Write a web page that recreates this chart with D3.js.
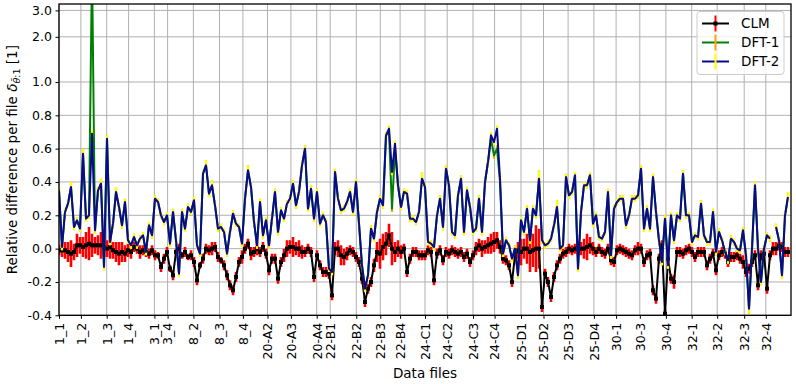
<!DOCTYPE html>
<html>
<head>
<meta charset="utf-8">
<script src="https://cdn.jsdelivr.net/npm/d3@7"></script>
<style>
body { margin: 0; background: #fff; }
svg { display: block; font-family: "DejaVu Sans", sans-serif; }
.axis path, .axis line { stroke: #000; }
</style>
</head>
<body>
<div id="chart"></div>
<script>
`use strict`;

// file labels on the x axis and where each file starts (point index)
const fileLabels = ['1_1','1_2','1_3','1_4','3_1','3_4','8_2','8_3','8_4','20-A2','20-A3','20-A4',
    '22-B1','22-B2','22-B3','22-B4','24-C1','24-C2','24-C3','24-C4','25-D1','25-D2','25-D3','25-D4',
    '30-1','30-3','30-4','32-1','32-2','32-3','32-4'];
const fileStarts = [0, 7.3, 15.9, 23.2, 31.8, 36.2, 44.8, 53.5, 61.3, 69.5, 77.3, 85.9,
    90.4, 99.1, 107.1, 113.7, 122, 129.4, 138, 145.2, 154, 161.5, 169.7, 178.3,
    185.7, 193.6, 202.3, 210.9, 219.4, 228.4, 235.6];

const yTicks = [-0.4, -0.2, 0.0, 0.2, 0.4, 0.6, 0.8, 1.0, 2.0, 3.0];
const yTickLabels = ['-0.4','-0.2','0.0','0.2','0.4','0.6','0.8','1.0','2.0','3.0'];

const clm = [
    -0.01,-0.01,-0.01,-0.02,-0.03,-0.02,0.02,0.02,0.01,0.02,
    0.03,0.02,0.02,0.02,0.02,0.01,0.0,0.01,-0.01,-0.02,
    -0.03,-0.02,-0.03,-0.01,-0.02,0.01,0.0,-0.02,-0.01,-0.02,
    -0.03,-0.01,-0.04,-0.04,-0.11,-0.06,-0.02,-0.12,-0.16,-0.02,
    0.0,-0.04,-0.02,-0.05,-0.04,-0.08,-0.19,-0.1,-0.06,0.0,
    -0.01,0.0,0.01,-0.05,-0.07,-0.1,-0.16,-0.22,-0.25,-0.17,
    -0.08,-0.05,0.0,0.03,-0.03,-0.02,0.0,-0.02,0.01,-0.03,
    -0.13,-0.06,-0.06,-0.18,-0.08,-0.04,0.0,0.01,0.01,0.0,
    0.0,-0.02,-0.02,0.0,-0.02,-0.17,-0.04,-0.1,-0.14,-0.14,
    -0.15,-0.28,0.0,0.0,-0.04,-0.05,-0.03,-0.01,-0.02,-0.05,
    -0.08,-0.18,-0.32,-0.24,-0.2,-0.1,-0.02,-0.03,0.01,0.03,
    0.08,0.0,-0.02,0.0,-0.02,0.0,-0.14,-0.06,-0.02,-0.02,
    -0.04,-0.04,-0.04,-0.01,-0.02,-0.19,-0.03,-0.01,-0.07,-0.02,
    -0.03,-0.01,-0.02,-0.03,-0.02,-0.05,-0.03,-0.08,-0.04,0.0,
    0.02,0.0,0.01,0.02,0.03,0.04,0.05,0.01,-0.06,-0.07,
    -0.1,-0.2,-0.04,-0.01,-0.02,0.0,0.0,-0.02,-0.01,0.0,
    0.0,-0.35,-0.15,-0.2,-0.29,-0.17,-0.1,-0.06,-0.03,-0.02,
    0.0,-0.01,0.0,0.0,0.0,0.0,0.01,0.02,0.0,-0.02,
    0.0,-0.02,-0.03,0.0,-0.07,-0.08,-0.01,0.0,-0.01,-0.02,
    -0.03,-0.04,-0.01,0.0,0.0,-0.08,-0.04,-0.03,-0.25,-0.3,
    -0.06,0.02,-0.39,-0.06,-0.18,-0.2,-0.02,-0.02,-0.03,-0.01,
    0.0,-0.02,-0.05,-0.02,-0.02,-0.02,-0.1,-0.06,-0.03,-0.13,
    -0.04,-0.02,-0.03,-0.08,-0.05,-0.05,-0.04,-0.06,-0.08,-0.14,
    -0.12,-0.08,-0.04,-0.22,-0.04,-0.03,-0.24,-0.04,0.0,0.0,
    0.02,0.01,-0.02,-0.02];
const clmErr = [
    0.03,0.04,0.05,0.06,0.08,0.05,0.07,0.05,0.06,0.08,
    0.1,0.07,0.05,0.06,0.08,0.06,0.05,0.07,0.05,0.06,
    0.07,0.06,0.05,0.04,0.04,0.03,0.03,0.04,0.03,0.03,
    0.03,0.03,0.03,0.02,0.03,0.03,0.03,0.02,0.03,0.02,
    0.03,0.02,0.03,0.02,0.03,0.03,0.03,0.02,0.03,0.03,
    0.03,0.04,0.03,0.03,0.02,0.03,0.03,0.03,0.03,0.03,
    0.03,0.04,0.03,0.03,0.04,0.03,0.04,0.03,0.03,0.03,
    0.03,0.03,0.03,0.03,0.03,0.04,0.05,0.04,0.06,0.04,
    0.05,0.04,0.03,0.03,0.03,0.03,0.03,0.03,0.03,0.03,
    0.03,0.03,0.04,0.05,0.06,0.05,0.04,0.03,0.03,0.03,
    0.03,0.03,0.03,0.03,0.03,0.04,0.06,0.09,0.08,0.07,
    0.07,0.1,0.06,0.05,0.04,0.03,0.03,0.03,0.03,0.03,
    0.03,0.03,0.03,0.03,0.03,0.03,0.03,0.03,0.03,0.03,
    0.03,0.03,0.03,0.03,0.03,0.03,0.03,0.03,0.03,0.04,
    0.04,0.05,0.04,0.05,0.06,0.06,0.05,0.04,0.03,0.03,
    0.03,0.03,0.04,0.05,0.08,0.06,0.09,0.12,0.1,0.14,
    0.12,0.03,0.03,0.03,0.03,0.03,0.03,0.03,0.03,0.03,
    0.03,0.03,0.03,0.04,0.04,0.06,0.08,0.05,0.04,0.03,
    0.03,0.03,0.03,0.03,0.03,0.03,0.03,0.03,0.03,0.03,
    0.03,0.03,0.03,0.04,0.03,0.03,0.03,0.03,0.03,0.03,
    0.03,0.03,0.03,0.03,0.03,0.04,0.03,0.03,0.03,0.03,
    0.03,0.03,0.03,0.03,0.03,0.03,0.03,0.03,0.03,0.03,
    0.03,0.03,0.03,0.03,0.03,0.03,0.03,0.03,0.04,0.03,
    0.03,0.03,0.03,0.03,0.03,0.03,0.03,0.03,0.04,0.04,
    0.03,0.03,0.03,0.03];

const dft1 = [
    0.35,0.01,0.22,0.27,0.37,0.13,0.17,0.12,0.57,0.18,
    0.2,6.0,0.11,0.35,0.39,-0.11,0.66,0.04,0.15,0.34,
    0.25,0.14,0.28,0.05,0.02,0.07,0.02,0.06,0.08,-0.02,
    0.14,0.08,0.3,0.28,0.2,0.16,0.2,0.03,0.22,0.05,
    -0.15,0.22,0.12,0.25,0.22,0.29,0.02,-0.03,0.45,0.5,
    0.33,0.38,0.26,0.12,0.13,0.1,-0.03,0.1,0.21,0.15,
    0.13,0.03,0.3,0.47,0.37,0.16,0.02,0.28,0.08,0.17,
    0.02,0.18,0.34,0.1,0.23,0.18,0.27,0.3,0.39,0.26,
    0.34,0.5,0.6,0.24,0.36,0.18,0.34,0.15,0.2,0.16,
    -0.12,-0.14,0.46,0.3,0.23,0.24,0.28,0.34,0.22,0.4,
    0.15,-0.1,-0.24,-0.16,0.12,0.06,0.22,0.3,0.26,0.68,
    0.7,0.24,0.6,0.38,0.25,0.34,0.33,0.18,0.18,0.16,
    0.22,0.42,0.37,0.04,0.03,0.01,0.2,0.3,0.13,0.48,
    0.38,0.1,0.08,0.32,0.42,0.1,0.35,0.25,0.1,0.12,
    0.3,0.1,0.4,0.52,0.66,0.56,0.6,0.4,-0.03,0.05,
    0.02,-0.06,0.0,-0.16,0.17,0.1,0.24,0.05,0.24,0.2,
    0.42,0.05,0.02,0.03,0.06,0.14,0.25,0.0,0.02,0.43,
    0.32,0.34,0.44,-0.12,0.22,0.38,0.38,0.44,0.15,0.2,
    0.07,0.06,0.1,0.34,-0.04,0.24,0.28,0.3,0.3,0.14,
    0.2,0.3,0.3,0.32,0.48,0.12,0.24,0.12,0.43,0.22,
    0.05,-0.08,0.18,-0.1,0.2,0.05,0.2,0.18,0.45,0.2,
    0.2,0.04,0.08,0.07,0.27,0.08,0.04,0.04,0.22,-0.02,
    0.1,0.05,-0.02,-0.07,0.06,0.04,0.0,-0.01,0.11,-0.04,
    -0.36,0.0,0.38,0.0,-0.2,0.0,0.08,0.06,null,0.13,
    0.05,-0.16,0.2,0.31];
const dft2 = [
    0.35,0.01,0.22,0.27,0.37,0.13,0.17,0.12,0.57,0.18,
    0.2,0.69,0.11,0.35,0.39,-0.11,0.66,0.04,0.15,0.34,
    0.25,0.14,0.28,0.05,0.02,0.07,0.02,0.06,0.08,-0.02,
    0.14,0.08,0.3,0.28,0.2,0.16,0.2,0.03,0.22,0.05,
    -0.15,0.22,0.12,0.25,0.22,0.29,0.02,-0.03,0.45,0.5,
    0.33,0.38,0.26,0.12,0.13,0.1,-0.03,0.1,0.21,0.15,
    0.13,0.03,0.3,0.47,0.37,0.16,0.02,0.28,0.08,0.17,
    0.02,0.18,0.34,0.1,0.23,0.18,0.27,0.3,0.39,0.26,
    0.34,0.5,0.6,0.24,0.36,0.18,0.34,0.15,0.2,0.16,
    -0.12,-0.14,0.46,0.3,0.23,0.24,0.28,0.34,0.22,0.4,
    0.15,-0.1,-0.24,-0.16,0.12,0.06,0.22,0.3,0.26,0.68,
    0.72,0.46,0.63,0.38,0.25,0.34,0.33,0.18,0.18,0.16,
    0.22,0.42,0.37,0.04,0.03,0.01,0.2,0.3,0.13,0.48,
    0.38,0.1,0.08,0.32,0.42,0.1,0.35,0.25,0.1,0.12,
    0.3,0.1,0.4,0.52,0.68,0.64,0.72,0.42,-0.03,0.05,
    0.02,-0.06,0.0,-0.16,0.17,0.1,0.24,0.05,0.24,0.2,
    0.42,0.05,0.02,0.03,0.06,0.14,0.25,0.0,0.02,0.43,
    0.32,0.34,0.44,-0.12,0.22,0.38,0.38,0.44,0.15,0.2,
    0.07,0.06,0.1,0.34,-0.04,0.24,0.28,0.3,0.3,0.14,
    0.2,0.3,0.3,0.32,0.48,0.12,0.24,0.12,0.43,0.22,
    0.05,-0.08,0.18,-0.1,0.2,0.05,0.2,0.18,0.45,0.2,
    0.2,0.04,0.08,0.07,0.27,0.08,0.04,0.04,0.22,-0.02,
    0.1,0.05,-0.02,-0.07,0.06,0.04,0.0,-0.01,0.11,-0.04,
    -0.36,0.0,0.38,0.0,-0.2,0.0,0.08,0.06,null,0.13,
    0.05,-0.16,0.2,0.31];
const dftErr = [
    0.02,0.02,0.02,0.02,0.03,0.02,0.02,0.02,0.03,0.02,
    0.02,0.02,0.02,0.02,0.03,0.02,0.02,0.02,0.02,0.03,
    0.02,0.02,0.02,0.02,0.02,0.02,0.02,0.02,0.02,0.02,
    0.02,0.02,0.02,0.02,0.02,0.02,0.02,0.02,0.02,0.02,
    0.02,0.02,0.02,0.02,0.02,0.02,0.02,0.02,0.02,0.03,
    0.02,0.03,0.02,0.02,0.02,0.02,0.02,0.02,0.02,0.02,
    0.02,0.02,0.02,0.03,0.02,0.02,0.02,0.02,0.02,0.02,
    0.02,0.02,0.02,0.02,0.02,0.02,0.02,0.02,0.02,0.02,
    0.02,0.02,0.02,0.02,0.02,0.02,0.02,0.02,0.02,0.02,
    0.02,0.02,0.02,0.02,0.02,0.02,0.02,0.02,0.02,0.02,
    0.02,0.02,0.02,0.02,0.02,0.02,0.02,0.02,0.02,0.02,
    0.02,0.02,0.02,0.02,0.02,0.02,0.02,0.02,0.02,0.02,
    0.02,0.04,0.02,0.02,0.02,0.02,0.02,0.02,0.02,0.02,
    0.02,0.02,0.02,0.02,0.02,0.02,0.02,0.02,0.02,0.02,
    0.02,0.02,0.02,0.02,0.02,0.02,0.02,0.02,0.02,0.02,
    0.02,0.02,0.02,0.02,0.02,0.02,0.02,0.02,0.02,0.02,
    0.05,0.02,0.02,0.02,0.02,0.02,0.04,0.02,0.02,0.02,
    0.02,0.02,0.02,0.02,0.02,0.02,0.02,0.02,0.02,0.02,
    0.02,0.02,0.02,0.02,0.02,0.02,0.02,0.02,0.02,0.02,
    0.02,0.02,0.02,0.02,0.02,0.02,0.02,0.02,0.02,0.02,
    0.02,0.02,0.02,0.02,0.02,0.02,0.02,0.02,0.02,0.02,
    0.02,0.02,0.02,0.02,0.02,0.02,0.02,0.02,0.02,0.02,
    0.02,0.02,0.02,0.02,0.02,0.02,0.02,0.02,0.02,0.02,
    0.03,0.02,0.02,0.02,0.02,0.02,0.02,0.02,0.02,0.02,
    0.02,0.02,0.02,0.03];

let w = 796, h = 384;
let plotLeft = 59, plotRight = 791, plotTop = 4, plotBottom = 315.3;
let fontSize = 13.5, tickFont = 12.5;

let svg = d3.select('#chart').append('svg')
    .attr('width', w).attr('height', h);

// linear up to 1, logarithmic above it
let logGain = 0.9;
function warp(v){ return v <= 1 ? v : 1 + logGain * Math.log10(v); }
let yLin = d3.scaleLinear().domain([-0.4, 1.468]).range([plotBottom, plotTop]);
let y = (v) => yLin(warp(v));
let x = d3.scaleLinear().domain([0, 244]).range([plotLeft, plotRight]);

//grid
let grid = svg.append('g');
grid.selectAll('.vgrid').data(fileStarts).enter().append('line')
    .attr('x1', d => x(d)).attr('x2', d => x(d)).attr('y1', plotTop).attr('y2', plotBottom)
    .attr('stroke', '#b0b0b0').attr('stroke-width', 1);
grid.selectAll('.hgrid').data(yTicks).enter().append('line')
    .attr('x1', plotLeft).attr('x2', plotRight).attr('y1', d => y(d)).attr('y2', d => y(d))
    .attr('stroke', '#b0b0b0').attr('stroke-width', 1);

svg.append('clipPath').attr('id', 'plot-clip').append('rect')
    .attr('x', plotLeft).attr('y', plotTop)
    .attr('width', plotRight - plotLeft).attr('height', plotBottom - plotTop);

let plot = svg.append('g').attr('clip-path', 'url(#plot-clip)');

function drawErrors(values, errs, color, width){
    let pts = values.map((v, i) => [i, v, errs[i]]).filter(d => d[1] !== null);
    plot.append('g').selectAll('line').data(pts).enter().append('line')
        .attr('x1', d => x(d[0])).attr('x2', d => x(d[0]))
        .attr('y1', d => y(d[1] - d[2])).attr('y2', d => y(d[1] + d[2]))
        .attr('stroke', color).attr('stroke-width', width);
}

let line = d3.line()
    .defined(d => d[1] !== null)
    .x(d => x(d[0])).y(d => y(d[1]));

function drawLine(values, color, width){
    plot.append('path').datum(values.map((v, i) => [i, v]))
        .attr('d', line).attr('fill', 'none')
        .attr('stroke', color).attr('stroke-width', width)
        .attr('stroke-linejoin', 'round');
}

// CLM
drawErrors(clm, clmErr, '#ff0000', 2.6);
drawLine(clm, '#000000', 2);
plot.append('g').selectAll('rect').data(clm.map((v, i) => [i, v])).enter().append('rect')
    .attr('x', d => x(d[0]) - 2).attr('y', d => y(d[1]) - 2)
    .attr('width', 4).attr('height', 4).attr('fill', '#000');

// DFT-1 then DFT-2 on top
drawErrors(dft1, dftErr, '#ffa500', 2.2);
drawLine(dft1, '#008000', 2);
drawErrors(dft2, dftErr, '#ffff00', 2.2);
drawLine(dft2, '#0a0a8a', 2);

//axes
let xAxis = d3.axisBottom(x).tickValues(fileStarts)
    .tickFormat((d, i) => fileLabels[i]).tickSize(3.5).tickSizeOuter(0);
let gx = svg.append('g').classed('axis', true)
    .attr('transform', `translate(0,${plotBottom})`).call(xAxis);
gx.select('.domain').remove();
gx.selectAll('text')
    .attr('transform', 'rotate(-90)').attr('text-anchor', 'end')
    .attr('x', -7.5).attr('y', 0).attr('dy', '0.35em')
    .attr('font-size', tickFont).attr('font-family', 'DejaVu Sans').attr('fill', '#000');

let yAxis = d3.axisLeft(yLin).tickValues(yTicks.map(warp))
    .tickFormat((d, i) => yTickLabels[i]).tickSize(3.5).tickPadding(3.5).tickSizeOuter(0);
let gy = svg.append('g').classed('axis', true)
    .attr('transform', `translate(${plotLeft},0)`).call(yAxis);
gy.select('.domain').remove();
gy.selectAll('text').attr('font-size', tickFont).attr('font-family', 'DejaVu Sans').attr('fill', '#000');

svg.append('rect').attr('x', plotLeft).attr('y', plotTop)
    .attr('width', plotRight - plotLeft).attr('height', plotBottom - plotTop)
    .attr('fill', 'none').attr('stroke', '#000').attr('stroke-width', 1.3);

//axis labels
svg.append('text').attr('x', (plotLeft + plotRight) / 2).attr('y', 378)
    .attr('text-anchor', 'middle').attr('font-size', fontSize).text('Data files');

let ylab = svg.append('text').attr('text-anchor', 'middle')
    .attr('transform', `translate(17,${(plotTop + plotBottom) / 2}) rotate(-90)`)
    .attr('font-size', fontSize);
ylab.append('tspan').text('Relative difference per file ');
ylab.append('tspan').attr('font-style', 'italic').text('δ');
ylab.append('tspan').attr('font-style', 'italic').attr('font-size', 9.5).attr('dy', 3).text('θ\u0304');
ylab.append('tspan').attr('font-size', 9.5).text(':1');
ylab.append('tspan').attr('dy', -3).text(' [1]');

//legend
let legendItems = [
    {name: 'CLM', line: '#000000', bar: '#ff0000', marker: true},
    {name: 'DFT-1', line: '#008000', bar: '#ffa500', marker: false},
    {name: 'DFT-2', line: '#0a0a8a', bar: '#ffff00', marker: false}
];
let legend = svg.append('g');
legend.append('rect').attr('x', 697).attr('y', 11.5).attr('width', 87).attr('height', 63)
    .attr('rx', 3).attr('fill', '#fff').attr('fill-opacity', 0.8)
    .attr('stroke', '#cccccc').attr('stroke-width', 1);
legendItems.forEach((item, i) => {
    let cy = 23.5 + i * 19;
    legend.append('line').attr('x1', 702).attr('x2', 729).attr('y1', cy).attr('y2', cy)
        .attr('stroke', item.line).attr('stroke-width', 2);
    legend.append('line').attr('x1', 715.5).attr('x2', 715.5).attr('y1', cy - 8).attr('y2', cy + 8)
        .attr('stroke', item.bar).attr('stroke-width', 2);
    if(item.marker){
        legend.append('rect').attr('x', 713.5).attr('y', cy - 2).attr('width', 4).attr('height', 4)
            .attr('fill', '#000');
    }
    legend.append('text').attr('x', 741).attr('y', cy).attr('dy', '0.35em')
        .attr('font-size', fontSize).text(item.name);
});
</script>
</body>
</html>
